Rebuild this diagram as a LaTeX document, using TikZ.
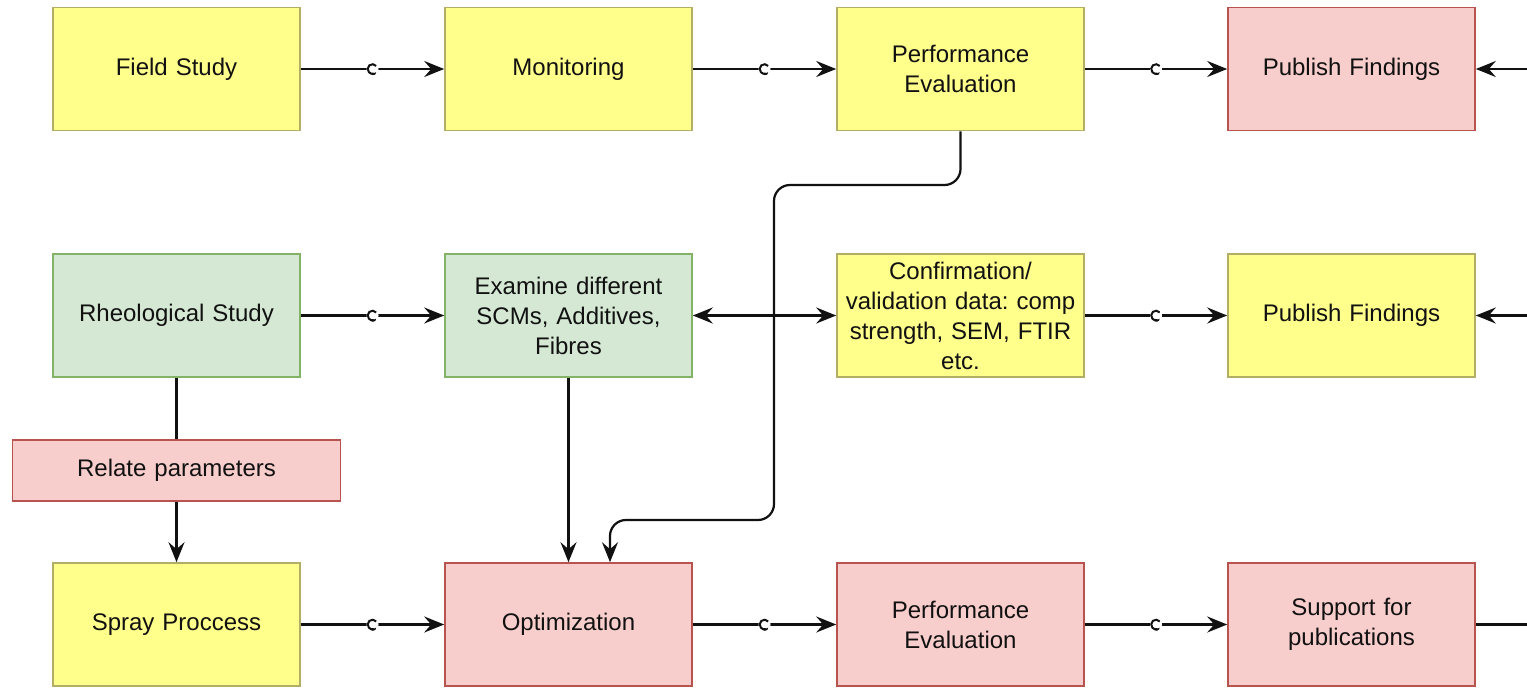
\documentclass[tikz,border=0pt]{standalone}
\usepackage{fontspec}
\setmainfont{Liberation Sans}
\frenchspacing
\usetikzlibrary{arrows.meta}
\definecolor{yfill}{HTML}{FFFF8C}
\definecolor{ydraw}{HTML}{B3AE66}
\definecolor{rfill}{HTML}{F8CECC}
\definecolor{rdraw}{HTML}{B85450}
\definecolor{gfill}{HTML}{D5E8D4}
\definecolor{gdraw}{HTML}{82B366}
\definecolor{ink}{HTML}{111111}
\tikzset{
  box/.style={rectangle, draw, line width=1.6pt, minimum width=247pt, minimum height=123pt,
    inner sep=2pt, align=center, text width=240pt, text=ink,
    font=\fontsize{24}{30}\selectfont},
  ybox/.style={box, fill=yfill, draw=ydraw},
  rbox/.style={box, fill=rfill, draw=rdraw},
  gbox/.style={box, fill=gfill, draw=gdraw},
  tip/.tip={Stealth[length=20pt, width=16pt, inset=7pt]},
  link/.style={line width=2.2pt, draw=ink},
  arrow/.style={link, -tip},
  twoway/.style={link, tip-tip},
  cmark/.style={circle, fill=white, inner sep=0pt, minimum size=12pt,
    path picture={\draw[ink, line width=2pt] (path picture bounding box.center) ++(40:4.8pt) arc (40:320:4.8pt);}},
}
\begin{document}
\begin{tikzpicture}[x=1pt, y=-1pt]
\useasboundingbox (0,0) rectangle (1527,688);

% first row
\node[ybox] (field) at (176.5,69) {Field Study};
\node[ybox] (mon)   at (568.5,69) {Monitoring};
\node[ybox] (perfA) at (960.5,69) {Performance\\Evaluation};
\node[rbox] (pubA)  at (1351.5,69) {Publish Findings};

% second row
\node[gbox] (rheo)  at (176.5,315.5) {Rheological Study};
\node[gbox] (scm)   at (568.5,315.5) {Examine different\\SCMs, Additives,\\Fibres};
\node[ybox] (conf)  at (960.5,315.5) {Confirmation/\\validation data: comp\\strength, SEM, FTIR\\etc.};
\node[ybox] (pubB)  at (1351.5,315.5) {Publish Findings};

\node[rbox, minimum width=328pt, minimum height=61pt, text width=300pt, line width=1.8pt] (rel) at (176.5,470.5) {Relate parameters};

% third row
\node[ybox] (spray) at (176.5,624.5) {Spray Proccess};
\node[rbox] (opt)   at (568.5,624.5) {Optimization};
\node[rbox] (perfB) at (960.5,624.5) {Performance\\Evaluation};
\node[rbox] (sup)   at (1351.5,624.5) {Support for\\publications};

% loose ends at the right border
\coordinate (inA) at (1527,69);
\coordinate (inB) at (1527,315.5);
\coordinate (outC) at (1527,624.5);

% horizontal chains
\draw[arrow] (field) -- node[cmark]{} (mon);
\draw[arrow] (mon) -- node[cmark]{} (perfA);
\draw[arrow] (perfA) -- node[cmark]{} (pubA);
\draw[arrow] (rheo) -- node[cmark]{} (scm);
\draw[twoway] (scm) -- (conf);
\draw[arrow] (conf) -- node[cmark]{} (pubB);
\draw[arrow] (spray) -- node[cmark]{} (opt);
\draw[arrow] (opt) -- node[cmark]{} (perfB);
\draw[arrow] (perfB) -- node[cmark]{} (sup);

\draw[arrow] (inA) -- (pubA);
\draw[arrow] (inB) -- (pubB);
\draw[link] (sup) -- (outC);

% vertical links
\draw[link] (rheo.south) -- (rel.north);
\draw[arrow] (rel.south) -- (spray.north);
\draw[arrow] (scm.south) -- (opt.north);

% feedback from the field evaluation to optimization
\coordinate (k1) at (960.5,185);
\coordinate (k2) at (774,185);
\coordinate (k3) at (774,520);
\coordinate (k4) at (610,520);
\draw[arrow, rounded corners=16pt] (perfA.south) -- (k1) -- (k2) -- (k3) -- (k4) -- (k4 |- opt.north);
\end{tikzpicture}
\end{document}
